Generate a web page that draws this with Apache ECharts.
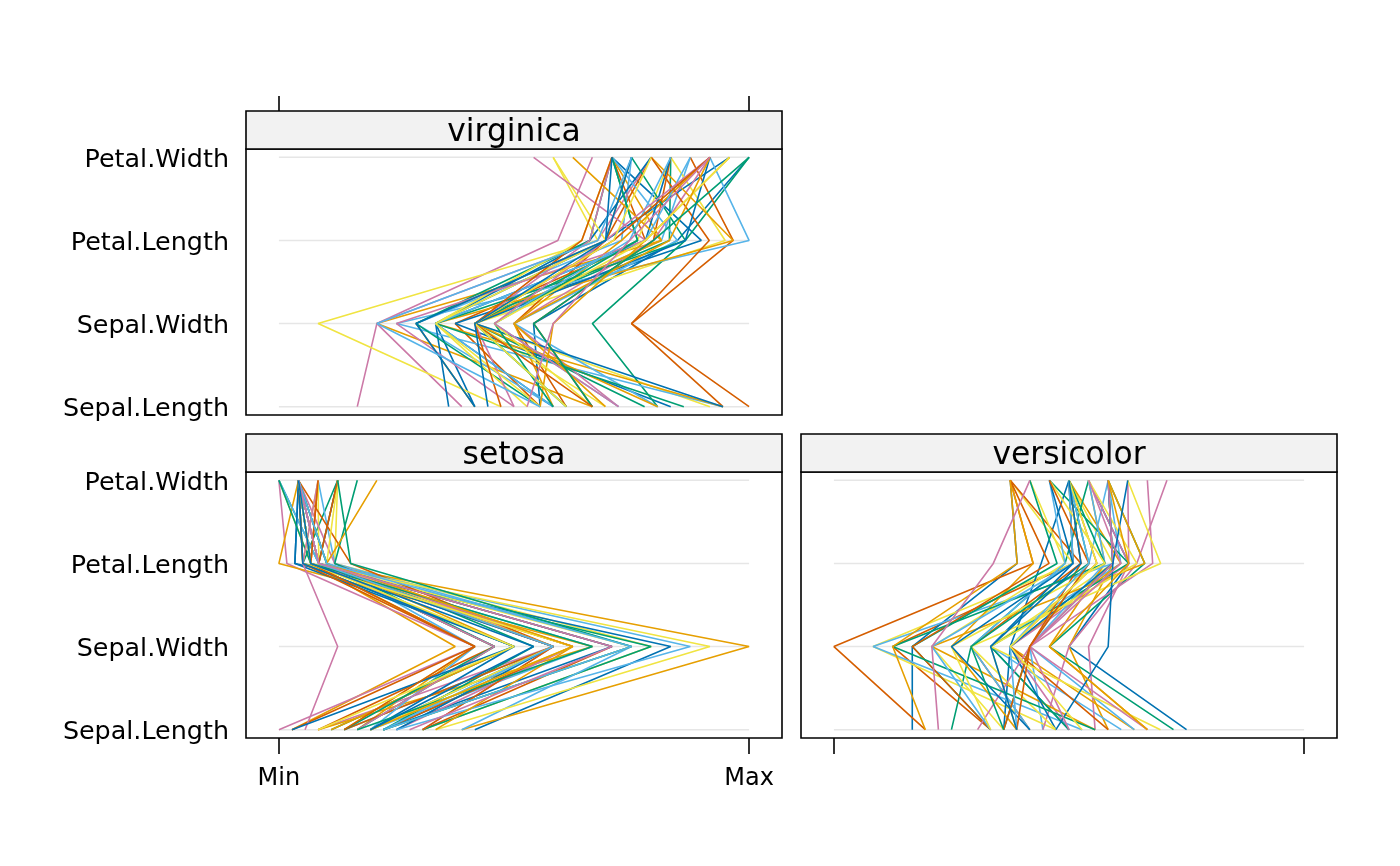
<!DOCTYPE html>
<html>
<head>
<meta charset="utf-8">
<script src="https://cdn.jsdelivr.net/npm/echarts@6/dist/echarts.min.js"></script>
<style>
html,body{margin:0;padding:0;background:#fff;}
#main{width:1400px;height:866px;}
</style>
</head>
<body>
<div id="main"></div>
<script>
// ---- data (iris) ----
const variables = ['Sepal.Length', 'Sepal.Width', 'Petal.Length', 'Petal.Width'];
const tickLabels = ['Min', 'Max'];
const speciesNames = ['setosa', 'versicolor', 'virginica'];

const setosaSepalLength = [5.1,4.9,4.7,4.6,5.0,5.4,4.6,5.0,4.4,4.9,5.4,4.8,4.8,4.3,5.8,5.7,5.4,5.1,5.7,5.1,5.4,5.1,4.6,5.1,4.8,5.0,5.0,5.2,5.2,4.7,4.8,5.4,5.2,5.5,4.9,5.0,5.5,4.9,4.4,5.1,5.0,4.5,4.4,5.0,5.1,4.8,5.1,4.6,5.3,5.0];
const setosaSepalWidth = [3.5,3.0,3.2,3.1,3.6,3.9,3.4,3.4,2.9,3.1,3.7,3.4,3.0,3.0,4.0,4.4,3.9,3.5,3.8,3.8,3.4,3.7,3.6,3.3,3.4,3.0,3.4,3.5,3.4,3.2,3.1,3.4,4.1,4.2,3.1,3.2,3.5,3.6,3.0,3.4,3.5,2.3,3.2,3.5,3.8,3.0,3.8,3.2,3.7,3.3];
const setosaPetalLength = [1.4,1.4,1.3,1.5,1.4,1.7,1.4,1.5,1.4,1.5,1.5,1.6,1.4,1.1,1.2,1.5,1.3,1.4,1.7,1.5,1.7,1.5,1.0,1.7,1.9,1.6,1.6,1.5,1.4,1.6,1.6,1.5,1.5,1.4,1.5,1.2,1.3,1.4,1.3,1.5,1.3,1.3,1.3,1.6,1.9,1.4,1.6,1.4,1.5,1.4];
const setosaPetalWidth = [0.2,0.2,0.2,0.2,0.2,0.4,0.3,0.2,0.2,0.1,0.2,0.2,0.1,0.1,0.2,0.4,0.4,0.3,0.3,0.3,0.2,0.4,0.2,0.5,0.2,0.2,0.4,0.2,0.2,0.2,0.2,0.4,0.1,0.2,0.2,0.2,0.2,0.1,0.2,0.2,0.3,0.3,0.2,0.6,0.4,0.3,0.2,0.2,0.2,0.2];

const versicolorSepalLength = [7.0,6.4,6.9,5.5,6.5,5.7,6.3,4.9,6.6,5.2,5.0,5.9,6.0,6.1,5.6,6.7,5.6,5.8,6.2,5.6,5.9,6.1,6.3,6.1,6.4,6.6,6.8,6.7,6.0,5.7,5.5,5.5,5.8,6.0,5.4,6.0,6.7,6.3,5.6,5.5,5.5,6.1,5.8,5.0,5.6,5.7,5.7,6.2,5.1,5.7];
const versicolorSepalWidth = [3.2,3.2,3.1,2.3,2.8,2.8,3.3,2.4,2.9,2.7,2.0,3.0,2.2,2.9,2.9,3.1,3.0,2.7,2.2,2.5,3.2,2.8,2.5,2.8,2.9,3.0,2.8,3.0,2.9,2.6,2.4,2.4,2.7,2.7,3.0,3.4,3.1,2.3,3.0,2.5,2.6,3.0,2.6,2.3,2.7,3.0,2.9,2.9,2.5,2.8];
const versicolorPetalLength = [4.7,4.5,4.9,4.0,4.6,4.5,4.7,3.3,4.6,3.9,3.5,4.2,4.0,4.7,3.6,4.4,4.5,4.1,4.5,3.9,4.8,4.0,4.9,4.7,4.3,4.4,4.8,5.0,4.5,3.5,3.8,3.7,3.9,5.1,4.5,4.5,4.7,4.4,4.1,4.0,4.4,4.6,4.0,3.3,4.2,4.2,4.2,4.3,3.0,4.1];
const versicolorPetalWidth = [1.4,1.5,1.5,1.3,1.5,1.3,1.6,1.0,1.3,1.4,1.0,1.5,1.0,1.4,1.3,1.4,1.5,1.0,1.5,1.1,1.8,1.3,1.5,1.2,1.3,1.4,1.4,1.7,1.5,1.0,1.1,1.0,1.2,1.6,1.5,1.6,1.5,1.3,1.3,1.3,1.2,1.4,1.2,1.0,1.3,1.2,1.3,1.3,1.1,1.3];

const virginicaSepalLength = [6.3,5.8,7.1,6.3,6.5,7.6,4.9,7.3,6.7,7.2,6.5,6.4,6.8,5.7,5.8,6.4,6.5,7.7,7.7,6.0,6.9,5.6,7.7,6.3,6.7,7.2,6.2,6.1,6.4,7.2,7.4,7.9,6.4,6.3,6.1,7.7,6.3,6.4,6.0,6.9,6.7,6.9,5.8,6.8,6.7,6.7,6.3,6.5,6.2,5.9];
const virginicaSepalWidth = [3.3,2.7,3.0,2.9,3.0,3.0,2.5,2.9,2.5,3.6,3.2,2.7,3.0,2.5,2.8,3.2,3.0,3.8,2.6,2.2,3.2,2.8,2.8,2.7,3.3,3.2,2.8,3.0,2.8,3.0,2.8,3.8,2.8,2.8,2.6,3.0,3.4,3.1,3.0,3.1,3.1,3.1,2.7,3.2,3.3,3.0,2.5,3.0,3.4,3.0];
const virginicaPetalLength = [6.0,5.1,5.9,5.6,5.8,6.6,4.5,6.3,5.8,6.1,5.1,5.3,5.5,5.0,5.1,5.3,5.5,6.7,6.9,5.0,5.7,4.9,6.7,4.9,5.7,6.0,4.8,4.9,5.6,5.8,6.1,6.4,5.6,5.1,5.6,6.1,5.6,5.5,4.8,5.4,5.6,5.1,5.1,5.9,5.7,5.2,5.0,5.2,5.4,5.1];
const virginicaPetalWidth = [2.5,1.9,2.1,1.8,2.2,2.1,1.7,1.8,1.8,2.5,2.0,1.9,2.1,2.0,2.4,2.3,1.8,2.2,2.3,1.5,2.3,2.0,2.0,1.8,2.1,1.8,1.8,1.8,2.1,1.6,1.9,2.0,2.2,1.5,1.4,2.3,2.4,1.8,1.8,2.1,2.4,2.3,1.9,2.3,2.5,2.3,1.9,2.0,2.3,1.8];

const palette = ['#0072B2', '#E69F00', '#009E73', '#D55E00', '#56B4E9', '#F0E442', '#CC79A7'];

// ---- build ----
const speciesData = {
  setosa: [setosaSepalLength, setosaSepalWidth, setosaPetalLength, setosaPetalWidth],
  versicolor: [versicolorSepalLength, versicolorSepalWidth, versicolorPetalLength, versicolorPetalWidth],
  virginica: [virginicaSepalLength, virginicaSepalWidth, virginicaPetalLength, virginicaPetalWidth]
};
// per-variable range across all species (as lattice parallelplot does)
const ranges = variables.map((v, j) => {
  const all = speciesNames.flatMap(s => speciesData[s][j]);
  return [Math.min(...all), Math.max(...all)];
});

const FONT = 'DejaVu Sans';
const panels = [
  { sp: 'virginica', left: 246, top: 149, showY: true, pos: 'top', showX: false },
  { sp: 'setosa', left: 246, top: 472, showY: true, pos: 'bottom', showX: true },
  { sp: 'versicolor', left: 801, top: 472, showY: false, pos: 'bottom', showX: false }
];
const PW = 536, PH = 266, STRIP = 38;

const grids = [], xAxes = [], yAxes = [], series = [], graphics = [];
panels.forEach((p, gi) => {
  grids.push({ left: p.left, top: p.top, width: PW, height: PH, show: true,
    borderColor: '#000', borderWidth: 1.6, backgroundColor: 'transparent', containLabel: false });
  xAxes.push({
    gridIndex: gi, type: 'value', min: -0.07, max: 1.07, position: p.pos,
    offset: p.pos === 'top' ? STRIP : 0,
    axisLine: { show: false }, splitLine: { show: false },
    axisTick: { show: true, inside: false, length: p.pos === 'top' ? 15 : 16, customValues: [0, 1],
      lineStyle: { color: '#000', width: 1.6 } },
    axisLabel: { show: p.showX, customValues: [0, 1], margin: 29, color: '#000',
      fontFamily: FONT, fontSize: 24, formatter: v => (v === 0 ? tickLabels[0] : tickLabels[1]) }
  });
  yAxes.push({
    gridIndex: gi, type: 'value', min: 0.9, max: 4.1,
    axisLine: { show: false }, splitLine: { show: false }, axisTick: { show: false },
    axisLabel: { show: p.showY, customValues: [1, 2, 3, 4], margin: 17, color: '#000',
      fontFamily: FONT, fontSize: 25.4,
      formatter: v => '{a|' + (variables[Math.round(v) - 1] || '') + '}',
      rich: { a: { fontFamily: FONT, fontSize: 25.4, color: '#000', padding: [6, 0, 0, 0] } } }
  });
  variables.forEach((v, j) => {
    series.push({ type: 'line', xAxisIndex: gi, yAxisIndex: gi, symbol: 'none', silent: true,
      lineStyle: { color: '#e6e6e6', width: 1.6 }, data: [[0, j + 1], [1, j + 1]], z: 1 });
  });
  const cols = speciesData[p.sp];
  const n = cols[0].length;
  for (let i = 0; i < n; i++) {
    const pts = variables.map((v, j) => [(cols[j][i] - ranges[j][0]) / (ranges[j][1] - ranges[j][0]), j + 1]);
    series.push({ type: 'line', xAxisIndex: gi, yAxisIndex: gi, symbol: 'none', silent: true,
      lineStyle: { color: palette[i % palette.length], width: 1.6 }, data: pts, z: 2 });
  }
  graphics.push({ type: 'rect', shape: { x: p.left, y: p.top - STRIP, width: PW, height: STRIP },
    style: { fill: '#f2f2f2', stroke: '#000', lineWidth: 1.6 }, z: 10 });
  graphics.push({ type: 'text', x: p.left + PW / 2, y: p.top - STRIP / 2 + 3,
    style: { text: p.sp, fill: '#000', font: '31.4px "DejaVu Sans"', textAlign: 'center', textVerticalAlign: 'middle' }, z: 11 });
});

const chart = echarts.init(document.getElementById('main'), null, { renderer: 'canvas' });
chart.setOption({
  animation: false,
  backgroundColor: '#fff',
  grid: grids, xAxis: xAxes, yAxis: yAxes, series: series, graphic: graphics
});
</script>
</body>
</html>
